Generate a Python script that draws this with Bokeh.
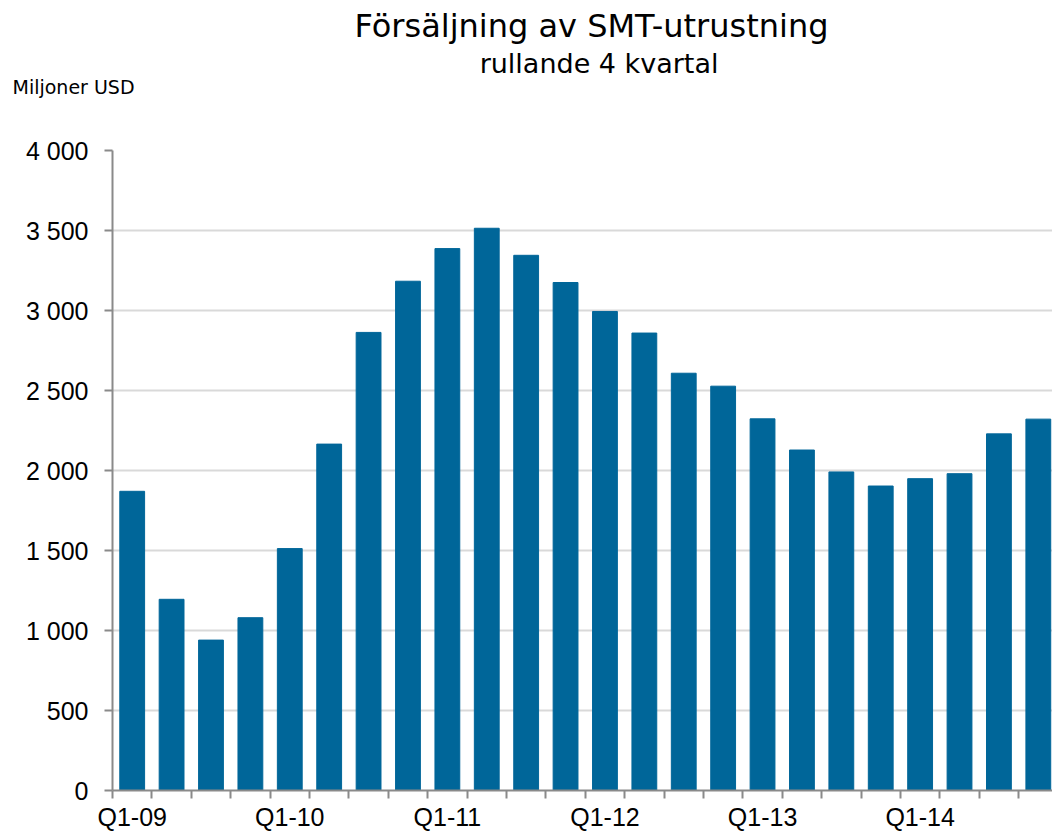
from bokeh.plotting import figure
from bokeh.models import (ColumnDataSource, FixedTicker, LinearAxis, Range1d, Title,
                          CustomLabelingPolicy)
from bokeh.embed import file_html
from bokeh.resources import INLINE

# ---- data ----
quarters = ["Q1-09", "Q2-09", "Q3-09", "Q4-09",
            "Q1-10", "Q2-10", "Q3-10", "Q4-10",
            "Q1-11", "Q2-11", "Q3-11", "Q4-11",
            "Q1-12", "Q2-12", "Q3-12", "Q4-12",
            "Q1-13", "Q2-13", "Q3-13", "Q4-13",
            "Q1-14", "Q2-14", "Q3-14", "Q4-14"]
sales = [1870, 1195, 940, 1080,
         1512, 2165, 2863, 3183,
         3387, 3514, 3345, 3175,
         2994, 2859, 2608, 2527,
         2323, 2128, 1991, 1903,
         1949, 1980, 2229, 2321]
y_ticks = [0, 500, 1000, 1500, 2000, 2500, 3000, 3500, 4000]
y_tick_labels = ["0", "500", "1 000", "1 500", "2 000", "2 500", "3 000", "3 500", "4 000"]
title_text = "Försäljning av SMT-utrustning"
subtitle_text = "rullande 4 kvartal"
unit_text = "Miljoner USD"

BAR = "#006699"
GRID = "#d9d9d9"
AXIS = "#8a8a8a"
TICK_FONT = "Liberation Sans"
TITLE_FONT = "DejaVu Sans"

n = len(quarters)
xpos = [i + 0.5 for i in range(n)]
source = ColumnDataSource(dict(x=xpos, q=quarters, v=sales))

p = figure(width=1052, height=833,
           x_range=Range1d(0, n - 0.14), y_range=Range1d(y_ticks[0], y_ticks[-1]),
           output_backend="svg", toolbar_location=None,
           min_border_left=112, min_border_right=0,
           min_border_top=150, min_border_bottom=41,
           outline_line_color=None, background_fill_color="white",
           border_fill_color="white")

p.vbar(x="x", top="v", bottom=0, width=0.63, source=source,
       fill_color=BAR, line_color=BAR, line_width=1)

# y axis
yax = p.yaxis[0]
yax.ticker = FixedTicker(ticks=y_ticks)
yax.major_label_overrides = {t: l for t, l in zip(y_ticks, y_tick_labels)}
yax.axis_line_color = AXIS
yax.axis_line_width = 2
yax.major_tick_line_color = AXIS
yax.major_tick_line_width = 2
yax.major_tick_out = 8
yax.major_tick_in = 0
yax.minor_tick_line_color = None
yax.major_label_text_font = TICK_FONT
yax.major_label_text_font_size = "25px"
yax.major_label_text_color = "black"
yax.major_label_standoff = 16

# y grid
p.ygrid.ticker = FixedTicker(ticks=y_ticks)
p.ygrid.grid_line_color = GRID
p.ygrid.grid_line_width = 2
p.xgrid.grid_line_color = None

# x axis: tick marks at category boundaries, no labels
xax = p.xaxis[0]
xax.ticker = FixedTicker(ticks=[float(i) for i in range(n + 1)])
xax.axis_line_color = AXIS
xax.axis_line_width = 2
xax.major_tick_line_color = AXIS
xax.major_tick_line_width = 2
xax.major_tick_out = 8
xax.major_tick_in = 0
xax.minor_tick_line_color = None
xax.major_label_standoff = 0
xax.major_label_text_font_size = "1px"
xax.major_label_policy = CustomLabelingPolicy(
    code="for (const i of Array.from(indices)) { indices.unset(i) }")

# x axis: labels at first quarter of each year
lab_pos = [xpos[i] for i, q in enumerate(quarters) if q.startswith("Q1")]
lab_txt = [q for q in quarters if q.startswith("Q1")]
xlab = LinearAxis(ticker=FixedTicker(ticks=lab_pos),
                  major_label_overrides={t: l for t, l in zip(lab_pos, lab_txt)})
xlab.axis_line_color = None
xlab.major_tick_line_color = None
xlab.minor_tick_line_color = None
xlab.major_tick_out = 0
xlab.major_tick_in = 0
xlab.major_label_text_font = TICK_FONT
xlab.major_label_text_font_size = "25px"
xlab.major_label_text_color = "black"
xlab.major_label_standoff = 0
p.add_layout(xlab, "below")

# titles: first added sits closest to the frame
p.add_layout(Title(text=unit_text, align="left", offset=-100, standoff=105,
                   text_font=TITLE_FONT, text_font_size="19px",
                   text_font_style="normal", text_color="black"), "above")
p.add_layout(Title(text=title_text, align="right", offset=224, standoff=-46,
                   text_font=TITLE_FONT, text_font_size="32px",
                   text_font_style="normal", text_color="black"), "above")
p.add_layout(Title(text=subtitle_text, align="right", offset=334, standoff=-114,
                   text_font=TITLE_FONT, text_font_size="27px",
                   text_font_style="normal", text_color="black"), "above")

open("out.html", "w").write(file_html(p, INLINE))
